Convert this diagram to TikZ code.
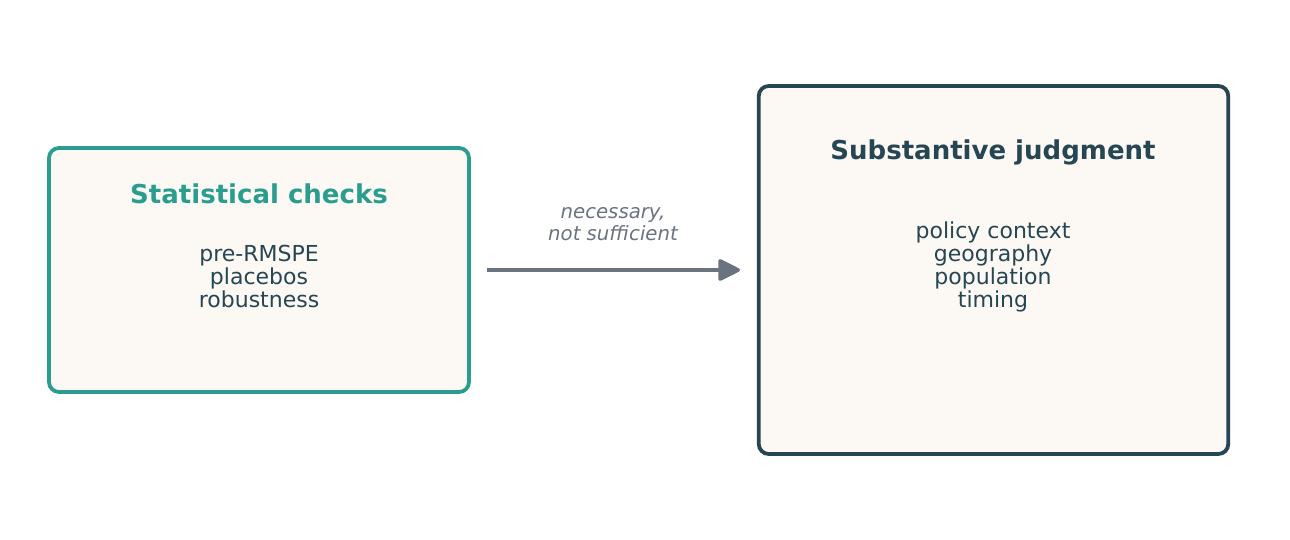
\documentclass[tikz,border=0pt]{standalone}
\usepackage{fontspec}
\setmainfont{DejaVu Sans}
\usetikzlibrary{arrows.meta}
\definecolor{teal}{HTML}{2A9D8F}
\definecolor{dark}{HTML}{264653}
\definecolor{cream}{HTML}{FCF8F4}
\definecolor{arrowgray}{HTML}{6B7280}
\tikzset{
  box/.style={draw, fill=cream, line width=3.8pt, rounded corners=10pt, inner sep=0pt},
  titletext/.style={font=\fontsize{26}{30}\selectfont\bfseries, inner sep=0pt},
  bodytext/.style={font=\fontsize{22}{23}\selectfont, text=dark, align=center, inner sep=0pt},
  labeltext/.style={font=\fontsize{19.7}{22}\selectfont\itshape, text=arrowgray, align=center, inner sep=0pt},
  conn/.style={draw=arrowgray, line width=3.6pt, -{Triangle[length=24pt,width=23pt,round]}}
}
\begin{document}
\begin{tikzpicture}[x=1pt,y=-1pt]
\useasboundingbox (0,0) rectangle (1290,540);
\node[box, draw=teal, minimum width=420pt, minimum height=244pt] (stat) at (259,270) {};
\node[box, draw=dark, minimum width=469.5pt, minimum height=368pt] (subst) at (993.5,270) {};
\node[titletext, text=teal] (stattitle) at (259,194) {Statistical checks};
\node[bodytext] (statbody) at (259,276) {pre-RMSPE\\placebos\\robustness};
\node[titletext, text=dark] (substtitle) at (993,152.5) {Substantive judgment};
\node[bodytext] (substbody) at (993,267) {policy context\\geography\\population\\timing};
\coordinate (a1) at (487,270);
\coordinate (a2) at (740,270);
\draw[conn] (a1) -- (a2);
\node[labeltext] (lbl) at (613,224) {necessary,\\not sufficient};
\end{tikzpicture}
\end{document}
